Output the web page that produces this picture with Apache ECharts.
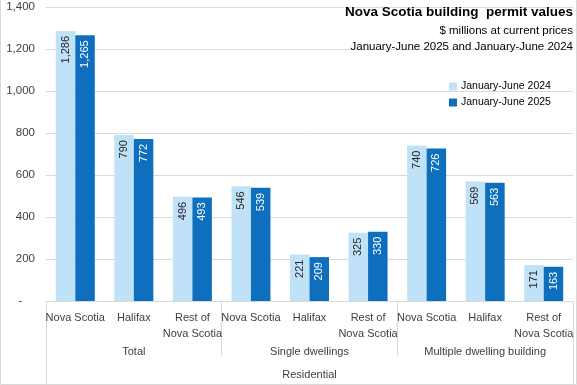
<!DOCTYPE html>
<html><head><meta charset="utf-8">
<script src="https://cdn.jsdelivr.net/npm/echarts@6/dist/echarts.min.js"></script>
<style>html,body{margin:0;padding:0;background:#fff}#c{width:577px;height:385px}</style>
</head><body><div id="c"></div>
<script>
const areas = ['Nova Scotia','Halifax','Rest of\nNova Scotia','Nova Scotia','Halifax','Rest of\nNova Scotia','Nova Scotia','Halifax','Rest of\nNova Scotia'];
const groups = ['Total','Single dwellings','Multiple dwelling building'];
const topGroup = ['Residential'];
const jan2024 = [1286,790,496,546,221,325,740,569,171];
const jan2025 = [1265,772,493,539,209,330,726,563,163];
const seriesNames = ['January-June 2024','January-June 2025'];
const titleText = 'Nova Scotia building  permit values';
const sub1 = '$ millions at current prices';
const sub2 = 'January-June 2025 and January-June 2024';

const FONT = 'Liberation Sans';
const fmt = v => v.toLocaleString('en-US');
const chart = echarts.init(document.getElementById('c'));
const lblBase = {show:true, position:'insideTop', rotate:90, align:'right', verticalAlign:'middle', distance:5, fontSize:11, fontFamily:FONT, formatter:p=>fmt(p.value)};
chart.setOption({
  animation:false,
  textStyle:{fontFamily:FONT},
  graphic:[{type:'polyline', silent:true, shape:{points:[[0.5,0],[0.5,384.5],[576.5,384.5],[576.5,0]]}, style:{stroke:'#d9d9d9', fill:null, lineWidth:1}}],
  title:[
    {text:titleText, right:4, top:5, padding:0, textStyle:{fontSize:13.5, fontWeight:'bold', color:'#000', fontFamily:FONT}},
    {text:sub1, right:4, top:25, padding:0, textStyle:{fontSize:11.5, fontWeight:'normal', color:'#000', fontFamily:FONT}},
    {text:sub2, right:4, top:41, padding:0, textStyle:{fontSize:11.5, fontWeight:'normal', color:'#000', fontFamily:FONT}}
  ],
  legend:{orient:'vertical', left:444, top:76, itemWidth:8, itemHeight:8, itemGap:5, icon:'rect',
    textStyle:{fontSize:10.5, color:'#000', fontFamily:FONT, padding:[0,0,0,-1]}},
  grid:{left:46, right:4, top:7, bottom:84},
  xAxis:[
    {type:'category', data:areas, position:'bottom',
      axisLine:{show:true, lineStyle:{color:'#d9d9d9'}}, axisTick:{show:false},
      axisLabel:{interval:0, margin:9, fontSize:11, color:'#404040', lineHeight:16, fontFamily:FONT}},
    {type:'category', data:groups, position:'bottom', gridIndex:0,
      axisLine:{show:false}, axisTick:{show:true, length:55, lineStyle:{color:'#d9d9d9'}},
      axisLabel:{interval:0, margin:45, fontSize:11, color:'#404040', fontFamily:FONT}},
    {type:'category', data:topGroup, position:'bottom', gridIndex:0,
      axisLine:{show:false}, axisTick:{show:true, length:83, lineStyle:{color:'#d9d9d9'}},
      axisLabel:{interval:0, margin:68, fontSize:11, color:'#404040', fontFamily:FONT}}
  ],
  yAxis:{type:'value', min:0, max:1400, interval:200,
    axisLine:{show:false}, axisTick:{show:false},
    splitLine:{lineStyle:{color:'#d9d9d9'}},
    axisLabel:{fontSize:11.5, color:'#404040', margin:11, fontFamily:FONT, formatter:v=>v===0?'-    ':fmt(v)}},
  series:[
    {name:seriesNames[0], type:'bar', data:jan2024, barWidth:19.5, barGap:'0%', itemStyle:{color:'#c0e2f9'},
      label:Object.assign({}, lblBase, {color:'#262626'})},
    {name:seriesNames[1], type:'bar', data:jan2025, barWidth:19.5, barGap:'0%', itemStyle:{color:'#0e6fbf'},
      label:Object.assign({}, lblBase, {color:'#fff'})}
  ]
});
</script></body></html>
